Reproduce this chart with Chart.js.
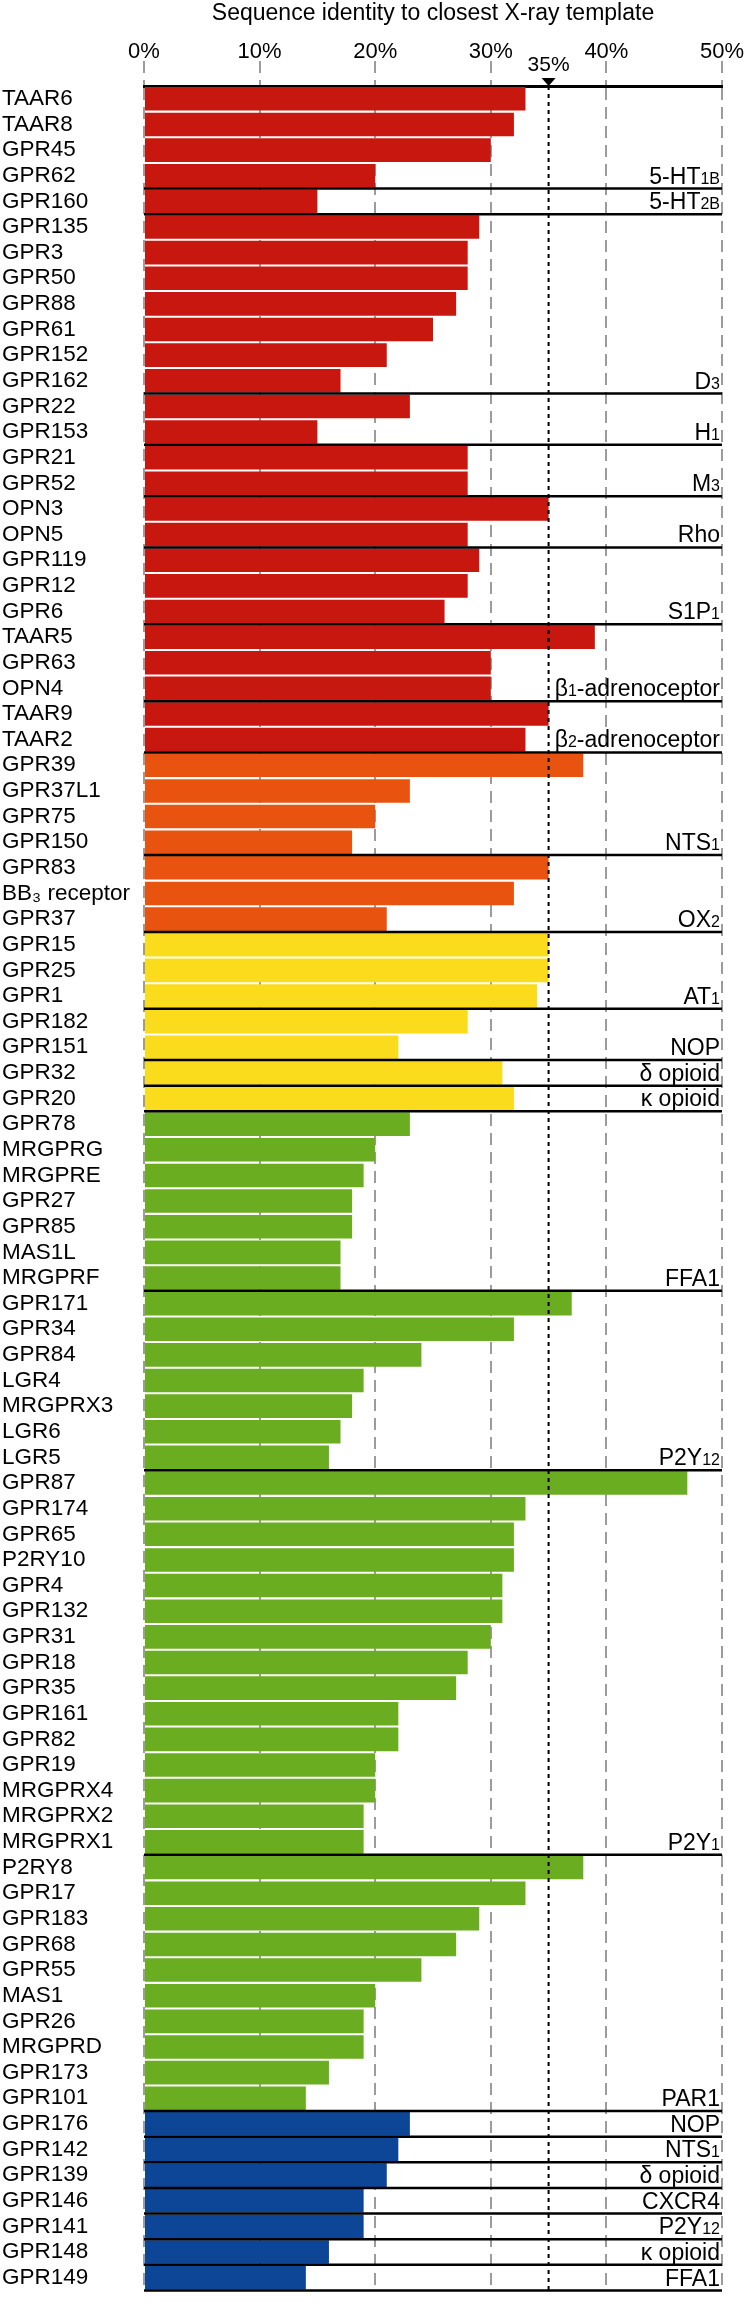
<!DOCTYPE html>
<html><head><meta charset="utf-8">
<script src="https://cdn.jsdelivr.net/npm/chart.js@4.4.0/dist/chart.umd.min.js"></script>
<style>html,body{margin:0;padding:0;background:#fff}#wrap{width:748px;height:2304px}</style>
</head><body><div id="wrap"><canvas id="c" width="748" height="2304"></canvas></div>
<script>
const categories = [
 'TAAR6','TAAR8','GPR45','GPR62','GPR160','GPR135','GPR3','GPR50','GPR88','GPR61','GPR152','GPR162','GPR22','GPR153','GPR21','GPR52','OPN3','OPN5','GPR119','GPR12','GPR6','TAAR5','GPR63','OPN4','TAAR9','TAAR2',
 'GPR39','GPR37L1','GPR75','GPR150','GPR83','BB\u2083 receptor','GPR37',
 'GPR15','GPR25','GPR1','GPR182','GPR151','GPR32','GPR20',
 'GPR78','MRGPRG','MRGPRE','GPR27','GPR85','MAS1L','MRGPRF',
 'GPR171','GPR34','GPR84','LGR4','MRGPRX3','LGR6','LGR5',
 'GPR87','GPR174','GPR65','P2RY10','GPR4','GPR132','GPR31','GPR18','GPR35','GPR161','GPR82','GPR19','MRGPRX4','MRGPRX2','MRGPRX1',
 'P2RY8','GPR17','GPR183','GPR68','GPR55','MAS1','GPR26','MRGPRD','GPR173','GPR101',
 'GPR176','GPR142','GPR139','GPR146','GPR141','GPR148','GPR149'
];
const values = [
 33,32,30,20,15,29,28,28,27,25,21,17,23,15,28,28,35,28,29,28,26,39,30,30,35,33,
 38,23,20,18,35,32,21,
 35,35,34,28,22,31,32,
 23,20,19,18,18,17,17,
 37,32,24,19,18,17,16,
 47,33,32,32,31,31,30,28,27,22,22,20,20,19,19,
 38,33,29,27,24,20,19,19,16,14,
 23,22,21,19,19,16,14
];
const groupSizes = [26,7,7,39,7];
const groupColors = ['#C8170E','#E8540F','#FADC1C','#6AAD21','#0D4597'];
const templateRows = ['GPR62','GPR160','GPR162','GPR153','GPR52','OPN5','GPR6','OPN4','TAAR2','GPR150','GPR37','GPR1','GPR151','GPR32','GPR20','MRGPRF','LGR5','MRGPRX1','GPR101','GPR176','GPR142','GPR139','GPR146','GPR141','GPR148','GPR149'];
const templateNames = ['5-HT_{1B}','5-HT_{2B}','D_{3}','H_{1}','M_{3}','Rho','S1P_{1}','\u03b2_{1}-adrenoceptor','\u03b2_{2}-adrenoceptor','NTS_{1}','OX_{2}','AT_{1}','NOP','\u03b4 opioid','\u03ba opioid','FFA1','P2Y_{12}','P2Y_{1}','PAR1','NOP','NTS_{1}','\u03b4 opioid','CXCR4','P2Y_{12}','\u03ba opioid','FFA1'];
const xTicks = [0,10,20,30,40,50];
const threshold = 35;
const axisTitle = 'Sequence identity to closest X-ray template';

const FONT = "'Liberation Sans', Arial, Helvetica, sans-serif";
const barColors = [];
groupSizes.forEach((n,g)=>{ for(let i=0;i<n;i++) barColors.push(groupColors[g]); });

function drawRich(ctx, text, xRight, yBase){
  const parts = [];
  const re = /_\{([^}]*)\}/g; let last=0, m;
  while((m=re.exec(text))){ if(m.index>last) parts.push({t:text.slice(last,m.index),sub:false}); parts.push({t:m[1],sub:true}); last=re.lastIndex; }
  if(last<text.length) parts.push({t:text.slice(last),sub:false});
  const fMain = "23px "+FONT, fSub = "16px "+FONT;
  let w=0; parts.forEach(p=>{ctx.font=p.sub?fSub:fMain; p.w=ctx.measureText(p.t).width; w+=p.w;});
  let x = xRight - w;
  ctx.textAlign='left'; ctx.textBaseline='alphabetic'; ctx.fillStyle='#000';
  parts.forEach(p=>{ctx.font=p.sub?fSub:fMain; ctx.fillText(p.t,x,yBase); x+=p.w;});
}

const overlay = {
  id:'overlay',
  afterDatasetsDraw(chart){
    const {ctx, chartArea:a, scales:{x,y}} = chart;
    const step = y.getPixelForValue(1)-y.getPixelForValue(0);
    ctx.save();
    const tx = x.getPixelForValue(threshold);
    ctx.strokeStyle='#000'; ctx.lineWidth=2; ctx.setLineDash([4,4]);
    ctx.beginPath(); ctx.moveTo(tx,a.top); ctx.lineTo(tx,a.bottom); ctx.stroke();
    ctx.setLineDash([]);
    ctx.lineWidth=2.5;
    templateRows.forEach((r,k)=>{
      const i = categories.indexOf(r);
      const yy = y.getPixelForValue(i)+step/2;
      ctx.beginPath(); ctx.moveTo(a.left,yy); ctx.lineTo(a.right,yy); ctx.stroke();
      drawRich(ctx, templateNames[k], a.right-2, yy-5);
    });
    ctx.fillStyle='#000';
    ctx.beginPath(); ctx.moveTo(tx-7,a.top-8); ctx.lineTo(tx+7,a.top-8); ctx.lineTo(tx,a.top); ctx.closePath(); ctx.fill();
    ctx.font="21px "+FONT; ctx.textAlign='center'; ctx.textBaseline='alphabetic';
    ctx.fillText(threshold+'%', tx, a.top-15);
    ctx.restore();
  }
};

new Chart(document.getElementById('c'), {
  type:'bar',
  data:{labels:categories, datasets:[{data:values, backgroundColor:barColors, borderWidth:0, barPercentage:1, categoryPercentage:0.92}]},
  options:{
    indexAxis:'y', responsive:false, animation:false, devicePixelRatio:1,
    layout:{padding:{left:2,right:26,top:0,bottom:5}},
    plugins:{legend:{display:false}, tooltip:{enabled:false}},
    scales:{
      x:{position:'top', min:0, max:50,
        afterBuildTicks(s){ s.ticks = xTicks.map(v=>({value:v})); },
        afterFit(s){ s.height = 86; },
        ticks:{callback:v=>v+'%', font:{family:FONT,size:22}, color:'#000', padding:-4, maxRotation:0, autoSkip:false},
        grid:{color:'#9c9c9c', lineWidth:2, tickLength:25, tickColor:'#9c9c9c', tickWidth:2, tickBorderDash:[12,7]},
        border:{display:true, color:'#000', width:3, dash:[12,7]},
        title:{display:true, text:axisTitle, font:{family:FONT,size:23}, color:'#000', padding:{top:0,bottom:0}}
      },
      y:{
        afterFit(s){ s.width = 142; },
        grid:{display:false}, border:{display:false},
        ticks:{autoSkip:false, font:{family:FONT,size:22.5}, color:'#000', crossAlign:'far', padding:0}
      }
    }
  },
  plugins:[overlay]
});
</script></body></html>
